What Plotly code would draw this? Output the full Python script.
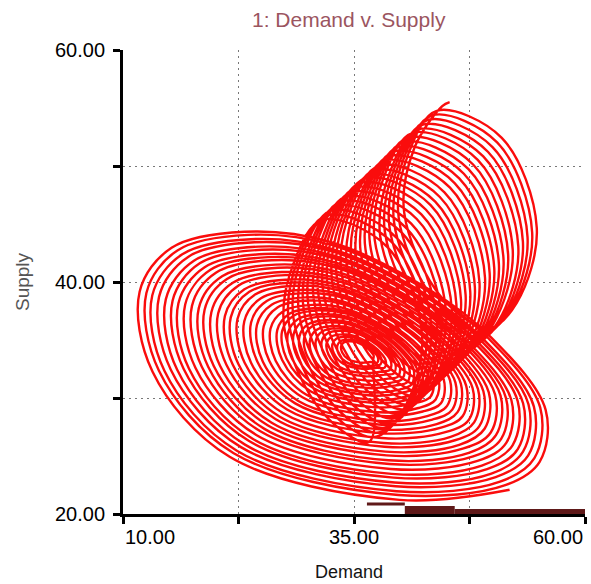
import plotly.graph_objects as go

# --- Phase 1: contracting spiral of wide tilted cycles ----------------------
# outline of one cycle around its centre (Demand, Supply offsets), clockwise
# from the lower right: bottom-right, bottom, lower-left, left-low, left,
# top-left, top, top-right, upper-right, waist, right, lower-right
spiral_dx = [18.94, 7.03, -11.36, -19.70, -21.10, -17.64, -9.74, -0.54, 10.28, 16.99, 22.84, 22.19]
spiral_dy = [-9.91, -10.78, -7.07, 0.26, 7.16, 10.95, 12.33, 11.47, 7.33, 3.19, -3.02, -7.50]
# centre and relative size of each successive cycle
spiral_cx = [32.9, 33.0, 33.0, 33.1, 33.2, 33.3, 33.3, 33.4, 33.5, 33.6, 33.6, 33.7, 33.8, 33.9, 33.9, 34.0, 34.1,
             34.2, 34.2, 34.3, 34.4, 34.5, 34.5, 34.6, 34.7, 34.8, 34.8, 34.9, 35.0, 35.1, 35.1, 35.2, 35.3, 35.3]
spiral_cy = [32.0, 32.1, 32.1, 32.2, 32.2, 32.3, 32.3, 32.4, 32.5, 32.5, 32.6, 32.6, 32.7, 32.7, 32.8, 32.9, 32.9,
             33.0, 33.0, 33.1, 33.1, 33.2, 33.3, 33.3, 33.4, 33.4, 33.5, 33.5, 33.6, 33.7, 33.7, 33.8, 33.8, 33.9]
spiral_size = [1.00, 0.97, 0.94, 0.91, 0.88, 0.85, 0.82, 0.79, 0.76, 0.73, 0.70, 0.67, 0.64, 0.61, 0.58, 0.55, 0.52,
               0.49, 0.46, 0.43, 0.40, 0.37, 0.345, 0.32, 0.295, 0.27, 0.245, 0.22, 0.195, 0.17, 0.145, 0.12, 0.10, 0.08]

# --- Phase 2: cycles drifting up and to the right ---------------------------
drift_cx = [34.8, 35.3, 35.8, 36.4, 36.9, 37.4, 38.0, 38.5, 39.0, 39.5, 40.0, 40.5, 41.0,
            41.6, 42.1, 42.6, 43.1, 43.6, 44.1, 44.6, 45.2, 45.7, 46.2, 46.7, 47.2, 47.8]
drift_cy = [35.7, 36.1, 36.5, 36.9, 37.3, 37.7, 38.1, 38.5, 38.9, 39.3, 39.6, 40.0, 40.4,
            40.8, 41.2, 41.6, 42.0, 42.4, 42.8, 43.2, 43.5, 43.9, 44.3, 44.7, 45.1, 45.5]
# outline of one drifting cycle: bottom, lower-left, left, upper-left, top,
# upper-right, right, lower-right
cycle_dx = [1.84, -3.25, -7.36, -6.28, -3.25, 3.79, 7.58, 5.41]
cycle_dy = [-9.48, -6.90, 0.43, 6.03, 9.66, 7.33, -0.43, -6.90]
end_dx, end_dy = 0.8, 0.35

# dark pen along the Demand axis
floor_x = [[36.4, 40.5], [40.5, 45.9], [45.9, 60.0]]
floor_y = [[20.87, 20.87], [20.35, 20.35], [20.22, 20.22]]
floor_w = [3, 8, 5]

x_ticks = [10, 22.5, 35, 47.5, 60]
x_labels = ["10.00", "", "35.00", "", "60.00"]
y_ticks = [20, 30, 40, 50, 60]
y_labels = ["20.00", "", "40.00", "", "60.00"]

xs, ys = [], []
for cx, cy, s in zip(spiral_cx, spiral_cy, spiral_size):
    for dx, dy in zip(spiral_dx, spiral_dy):
        xs.append(cx + s * dx); ys.append(cy + s * dy)

n_drift = len(drift_cx)
for k in range(n_drift):
    pts = range(len(cycle_dx)) if k < n_drift - 1 else range(5)
    for j in pts:
        xs.append(drift_cx[k] + cycle_dx[j]); ys.append(drift_cy[k] + cycle_dy[j])
xs.append(xs[-1] + end_dx); ys.append(ys[-1] + end_dy)

fig = go.Figure()
fig.add_trace(go.Scatter(x=xs, y=ys, mode="lines",
                         line=dict(color="rgb(250,12,12)", width=2.4, shape="spline", smoothing=1.0),
                         hoverinfo="skip", showlegend=False))
for fx, fy, fw in zip(floor_x, floor_y, floor_w):
    fig.add_trace(go.Scatter(x=fx, y=fy, mode="lines",
                             line=dict(color="rgb(95,25,25)", width=fw),
                             hoverinfo="skip", showlegend=False))

font = "Liberation Sans, Arial, Helvetica, sans-serif"
axis_common = dict(showline=True, linewidth=3, linecolor="black", ticks="outside",
                   ticklen=7, tickwidth=3, tickcolor="black", showticklabels=False,
                   showgrid=True, gridcolor="rgb(120,120,120)", gridwidth=1.2,
                   griddash="2px,4px", zeroline=False, layer="below traces")
fig.update_xaxes(range=[10, 60], tickvals=x_ticks, **axis_common)
fig.update_yaxes(range=[20, 60], tickvals=y_ticks, **axis_common)

annotations = []
anchors = ["left", "center", "center", "center", "right"]
for v, lab, anc in zip(x_ticks, x_labels, anchors):
    if lab:
        annotations.append(dict(x=v, y=0, xref="x", yref="paper", text=lab, showarrow=False,
                                xanchor=anc, yanchor="middle", yshift=-23,
                                font=dict(family=font, size=20, color="black")))
for v, lab in zip(y_ticks, y_labels):
    if lab:
        annotations.append(dict(x=0, y=v, xref="paper", yref="y", text=lab, showarrow=False,
                                xanchor="right", yanchor="middle", xshift=-16,
                                font=dict(family=font, size=20, color="black")))
annotations.append(dict(x=0.49, y=1, xref="paper", yref="paper", text="1: Demand v. Supply",
                        showarrow=False, xanchor="center", yanchor="middle", yshift=31,
                        font=dict(family=font, size=21, color="rgb(155,85,95)")))
annotations.append(dict(x=0.49, y=0, xref="paper", yref="paper", text="Demand",
                        showarrow=False, xanchor="center", yanchor="middle", yshift=-58,
                        font=dict(family=font, size=18, color="rgb(20,20,20)")))
annotations.append(dict(x=0, y=0.5, xref="paper", yref="paper", text="Supply",
                        showarrow=False, xanchor="center", yanchor="middle", xshift=-101, textangle=-90,
                        font=dict(family=font, size=19, color="rgb(85,85,85)")))

fig.update_layout(width=591, height=584, margin=dict(l=123, r=6, t=50, b=70),
                  plot_bgcolor="white", paper_bgcolor="white",
                  annotations=annotations, showlegend=False)

fig.write_html("out.html")
